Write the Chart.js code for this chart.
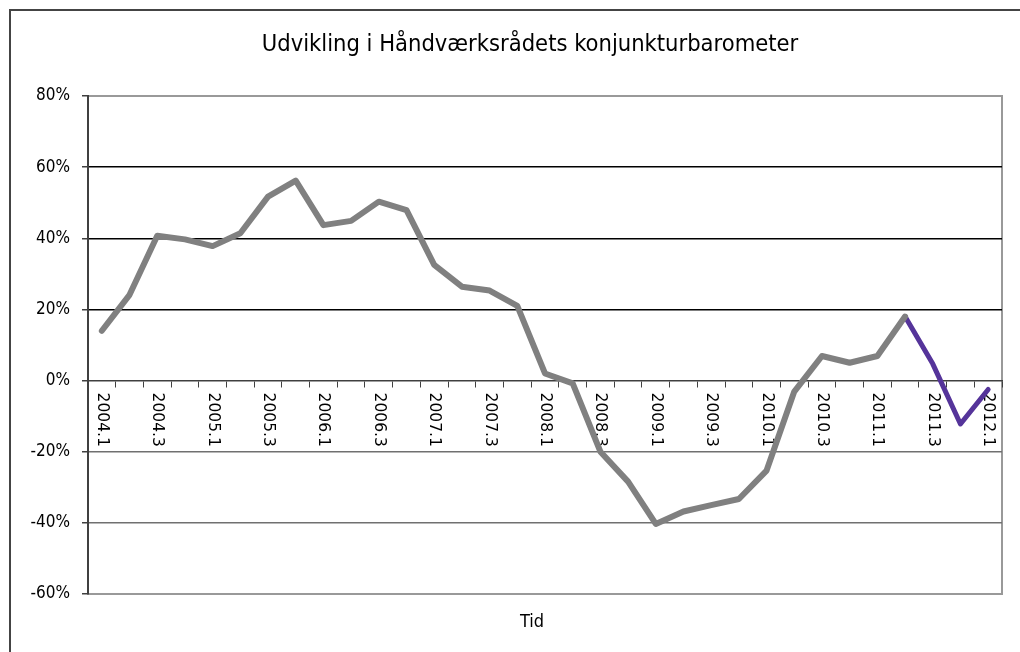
<!DOCTYPE html>
<html>
<head>
<meta charset="utf-8">
<script src="https://cdn.jsdelivr.net/npm/chart.js@4"></script>
<style>
  body { margin: 0; background: #fff; }
</style>
</head>
<body>
<canvas id="barometer" width="1020" height="652"></canvas>
<script>
// kvartaler 2004.1 - 2012.1
var quarters = ['2004.1', '2004.2', '2004.3', '2004.4', '2005.1', '2005.2', '2005.3', '2005.4',
    '2006.1', '2006.2', '2006.3', '2006.4', '2007.1', '2007.2', '2007.3', '2007.4',
    '2008.1', '2008.2', '2008.3', '2008.4', '2009.1', '2009.2', '2009.3', '2009.4',
    '2010.1', '2010.2', '2010.3', '2010.4', '2011.1', '2011.2', '2011.3', '2011.4', '2012.1'];

// konjunkturbarometer i procent
var values = [14.0, 24.1, 40.7, 39.7, 37.8, 41.4, 51.7, 56.2,
    43.7, 44.9, 50.3, 47.9, 32.5, 26.4, 25.3, 21.0,
    2.0, -0.8, -20.0, -28.4, -40.3, -36.8, -35.0, -33.3,
    -25.3, -3.1, 6.9, 5.0, 6.9, 18.0, 4.7, -12.2, -2.5];

// fra dette punkt vises linjen i lilla
var purpleFrom = 29;

var yTicks = [-60, -40, -20, 0, 20, 40, 60, 80];
var chartTitle = 'Udvikling i Håndværksrådets konjunkturbarometer';
var xTitle = 'Tid';

var grayData = values.map(function (v, i) { return i <= purpleFrom ? v : null; });
var purpleData = values.map(function (v, i) { return i >= purpleFrom ? v : null; });

var frame = {
    id: 'frame',
    beforeDraw: function (chart) {
        var ctx = chart.ctx, a = chart.chartArea;
        ctx.save();
        ctx.fillStyle = '#fff';
        ctx.fillRect(0, 0, chart.width, chart.height);
        ctx.strokeStyle = '#444';
        ctx.lineWidth = 2;
        ctx.beginPath();
        ctx.moveTo(10, chart.height);
        ctx.lineTo(10, 10);
        ctx.lineTo(chart.width, 10);
        ctx.stroke();
        ctx.strokeStyle = '#999';
        ctx.lineWidth = 2;
        ctx.strokeRect(a.left, a.top, a.right - a.left, a.bottom - a.top);
        // titel
        ctx.fillStyle = '#000';
        ctx.font = '23.5px "DejaVu Sans Condensed"';
        ctx.textAlign = 'center';
        ctx.textBaseline = 'middle';
        ctx.fillText(chartTitle, 530, 45);
        ctx.restore();
    },
    beforeDatasetsDraw: function (chart) {
        var ctx = chart.ctx, x = chart.scales.x, y = chart.scales.y;
        var y0 = y.getPixelForValue(0) + 12;
        ctx.save();
        ctx.font = '15.5px "DejaVu Sans"';
        ctx.fillStyle = '#000';
        ctx.textAlign = 'left';
        ctx.textBaseline = 'middle';
        for (var i = 0; i < quarters.length; i += 2) {
            ctx.save();
            ctx.translate(x.getPixelForValue(i), y0);
            ctx.rotate(Math.PI / 2);
            ctx.fillText(quarters[i], 0, 0);
            ctx.restore();
        }
        // aksetitel
        ctx.font = '18px "DejaVu Sans Condensed"';
        ctx.textAlign = 'center';
        ctx.fillText(xTitle, 532, chart.chartArea.bottom + 28);
        ctx.restore();
    }
};

new Chart(document.getElementById('barometer'), {
    type: 'line',
    data: {
        labels: quarters,
        datasets: [
            {
                data: grayData,
                borderColor: '#808080',
                borderWidth: 6,
                pointRadius: 0,
                borderJoinStyle: 'round',
                borderCapStyle: 'round'
            },
            {
                data: purpleData,
                borderColor: '#55349a',
                borderWidth: 5,
                pointRadius: 0,
                borderJoinStyle: 'round',
                borderCapStyle: 'round'
            }
        ]
    },
    options: {
        responsive: false,
        animation: false,
        layout: { padding: { left: 0, right: 18, top: 96, bottom: 58 } },
        plugins: {
            legend: { display: false },
            tooltip: { enabled: false }
        },
        scales: {
            x: {
                type: 'category',
                position: { y: 0 },
                offset: true,
                ticks: { display: false, autoSkip: false },
                grid: {
                    drawOnChartArea: false,
                    drawTicks: true,
                    tickLength: 6,
                    offset: true,
                    tickColor: '#404040'
                },
                border: { color: '#404040', width: 1.5 }
            },
            y: {
                min: -60,
                max: 80,
                afterFit: function (s) { s.width = 88; },
                afterBuildTicks: function (s) {
                    s.ticks = yTicks.map(function (v) { return { value: v }; });
                },
                ticks: {
                    color: '#000',
                    padding: 12,
                    font: { family: '"DejaVu Sans Condensed"', size: 17 },
                    callback: function (v) { return v + '%'; }
                },
                grid: {
                    tickLength: 6,
                    tickColor: '#404040',
                    lineWidth: 1.5,
                    color: function (c) {
                        var v = c.tick.value;
                        if (v === 80 || v === -60 || v === 0) return 'rgba(0,0,0,0)';
                        return v > 0 ? '#000' : '#707070';
                    }
                },
                border: { color: '#404040', width: 2 }
            }
        }
    },
    plugins: [frame]
});
</script>
</body>
</html>
